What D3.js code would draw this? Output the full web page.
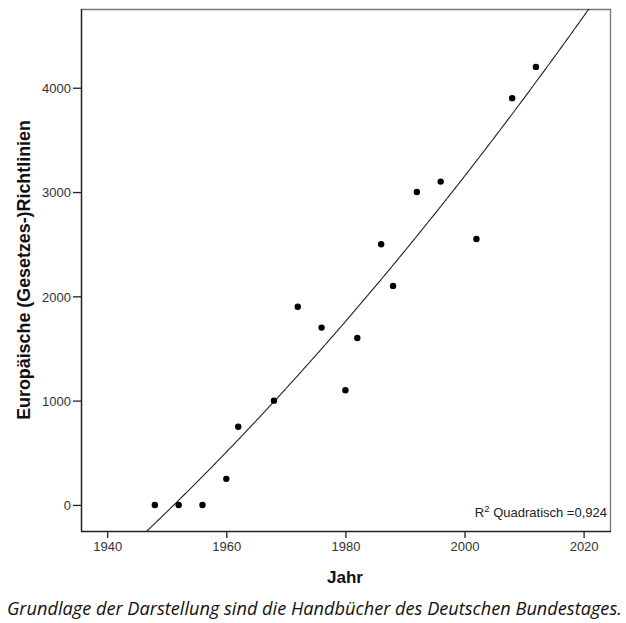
<!DOCTYPE html>
<html><head><meta charset="utf-8">
<script src="https://cdn.jsdelivr.net/npm/d3@7"></script>
<style>body{margin:0;background:#fff}svg{display:block}</style>
</head><body>
<svg id="c" width="626" height="623"></svg>
<script>
const years  = [1948,1952,1956,1960,1962,1968,1972,1976,1980,1982,1986,1988,1992,1996,2002,2008,2012];
const counts = [0,0,0,250,750,1000,1900,1700,1100,1600,2500,2100,3000,3100,2550,3900,4200];
const xTicks = [1940,1960,1980,2000,2020];
const yTicks = [0,1000,2000,3000,4000];
const xTitle = "Jahr";
const yTitle = "Europäische (Gesetzes-)Richtlinien";
const fitLabel = "Quadratisch =0,924";
const caption = "Grundlage der Darstellung sind die Handbücher des Deutschen Bundestages.";

const svg = d3.select("#c");
const L=81, T=9, R=611, B=531;
const x = d3.scaleLinear().domain([1935.6,2024.6]).range([L,R]);
const y = d3.scaleLinear().domain([-250,4755]).range([B,T]);

// quadratic least squares fit from data
function quadFit(xs, ys){
  const m = d3.mean(xs);
  const u = xs.map(v=>v-m);
  let S=[0,0,0,0,0], Sy=[0,0,0];
  u.forEach((t,i)=>{ for(let k=0;k<5;k++) S[k]+=Math.pow(t,k); for(let k=0;k<3;k++) Sy[k]+=ys[i]*Math.pow(t,k); });
  const A=[[S[0],S[1],S[2],Sy[0]],[S[1],S[2],S[3],Sy[1]],[S[2],S[3],S[4],Sy[2]]];
  for(let i=0;i<3;i++){ for(let j=i+1;j<3;j++){ const f=A[j][i]/A[i][i]; for(let k=i;k<4;k++) A[j][k]-=f*A[i][k]; } }
  const c=[0,0,0];
  for(let i=2;i>=0;i--){ let s=A[i][3]; for(let k=i+1;k<3;k++) s-=A[i][k]*c[k]; c[i]=s/A[i][i]; }
  return t => c[0]+c[1]*(t-m)+c[2]*(t-m)*(t-m);
}
const f = quadFit(years, counts);

svg.append("defs").append("clipPath").attr("id","clip")
  .append("rect").attr("x",L).attr("y",T).attr("width",R-L).attr("height",B-T);

// frame top/right grey
svg.append("line").attr("x1",L).attr("x2",R).attr("y1",T+0.5).attr("y2",T+0.5).attr("stroke","#777").attr("stroke-width",1.3);
svg.append("line").attr("x1",R-0.5).attr("x2",R-0.5).attr("y1",T).attr("y2",B).attr("stroke","#777").attr("stroke-width",1.3);

// fit curve
const xsCurve = d3.range(1935.6, 2024.7, 0.25);
svg.append("path").attr("clip-path","url(#clip)")
  .datum(xsCurve)
  .attr("d", d3.line().x(d=>x(d)).y(d=>y(f(d))))
  .attr("fill","none").attr("stroke","#222").attr("stroke-width",1.1);

// points
svg.append("g").selectAll("circle").data(years).join("circle")
  .attr("cx",(d)=>x(d)).attr("cy",(d,i)=>y(counts[i])).attr("r",3.2).attr("fill","#000");

// axes
const xa = svg.append("g").attr("transform",`translate(0,${B})`)
  .call(d3.axisBottom(x).tickValues(xTicks).tickSize(7).tickPadding(4).tickFormat(d3.format("d")));
const ya = svg.append("g").attr("transform",`translate(${L},0)`)
  .call(d3.axisLeft(y).tickValues(yTicks).tickSize(8).tickPadding(2).tickFormat(d3.format("d")));
[xa,ya].forEach(a=>{
  a.select(".domain").attr("stroke","#222").attr("stroke-width",1.5);
  a.selectAll(".tick line").attr("stroke","#222").attr("stroke-width",1.3);
  a.selectAll(".tick text").attr("fill","#333").style("font-family","'Liberation Sans',Arial,sans-serif").style("font-size","13px");
});
ya.select(".domain").attr("d",`M0.5,${B}V${T}`);
xa.select(".domain").attr("d",`M${L},0.5H${R}`);
ya.selectAll(".tick text").attr("dy","0.36em");

// R2 label
const r2 = svg.append("text").attr("x",607).attr("y",517).attr("text-anchor","end")
  .style("font-family","'Liberation Sans',Arial,sans-serif").style("font-size","13px").attr("fill","#222");
r2.append("tspan").text("R");
r2.append("tspan").attr("dy",-5).style("font-size","9.5px").text("2");
r2.append("tspan").attr("dy",5).text(" " + fitLabel);

// titles
function fitText(sel, target){
  const len = sel.node().getComputedTextLength();
  const fs = parseFloat(sel.style("font-size"));
  sel.style("font-size",(fs*target/len)+"px");
}
const xt = svg.append("text").attr("x",345).attr("y",583).attr("text-anchor","middle")
  .style("font-family","'Liberation Sans',Arial,sans-serif").style("font-weight","bold").style("font-size","16px").attr("fill","#111").text(xTitle);
fitText(xt,36);
const yt = svg.append("text").attr("transform","translate(30,270) rotate(-90)").attr("text-anchor","middle")
  .style("font-family","'Liberation Sans',Arial,sans-serif").style("font-weight","bold").style("font-size","16px").attr("fill","#111").text(yTitle);
fitText(yt,300);

const cap = svg.append("text").attr("x",7).attr("y",615)
  .style("font-family","'Open Sans',sans-serif").style("font-style","italic").style("font-size","15px").attr("fill","#111").text(caption);
fitText(cap,615);
</script>
</body></html>
